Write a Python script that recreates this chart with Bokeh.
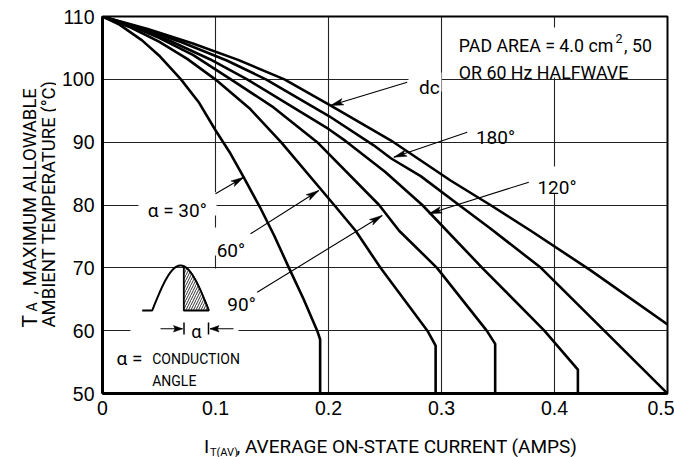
import numpy as np
from bokeh.plotting import figure
from bokeh.layouts import row, column
from bokeh.models import Range1d, Label, FixedTicker
from bokeh.core.properties import value
from bokeh.embed import file_html
from bokeh.resources import INLINE

# ---------------- data ----------------
x_ticks = [0.0, 0.1, 0.2, 0.3, 0.4, 0.5]
x_tick_labels = ["0", "0.1", "0.2", "0.3", "0.4", "0.5"]
y_ticks = [50, 60, 70, 80, 90, 100, 110]
y_tick_labels = ["50", "60", "70", "80", "90", "100", "110"]

# I_T(AV) (amps) and T_A (deg C) for each conduction angle
i_30 = [0, 0.015, 0.035, 0.05, 0.0694, 0.085, 0.1, 0.1125, 0.125, 0.1395, 0.152, 0.165, 0.178, 0.190, 0.1926, 0.1926]
t_30 = [110, 108.7, 106.2, 103.8, 100, 96.4, 91.9, 88.4, 84.4, 79.6, 75.1, 70, 65.0, 60, 58.6, 50]
i_60 = [0, 0.025, 0.05, 0.075, 0.0998, 0.13, 0.158, 0.205, 0.224, 0.246, 0.2875, 0.2948, 0.2948]
t_60 = [110, 108.25, 106, 103.25, 100, 95.4, 90, 80, 75.9, 70, 60, 57.6, 50]
i_90 = [0, 0.025, 0.05, 0.08, 0.1136, 0.15, 0.19, 0.2448, 0.2625, 0.296, 0.34, 0.3475, 0.3475]
t_90 = [110, 108.5, 106.6, 103.9, 100, 95.7, 90, 80, 75.9, 70, 60, 57.9, 50]
i_120 = [0, 0.03, 0.06, 0.095, 0.128, 0.2, 0.215, 0.25, 0.283, 0.336, 0.391, 0.4207, 0.4207]
t_120 = [110, 108.3, 106.1, 103.2, 100, 92.1, 90.2, 85.3, 80, 70, 60, 53.8, 50]
i_180 = [0, 0.035, 0.07, 0.11, 0.1446, 0.2, 0.24, 0.2555, 0.2816, 0.3155, 0.343, 0.388, 0.444, 0.5]
t_180 = [110, 108.1, 105.9, 103.0, 100, 94.2, 89.5, 87.4, 84.6, 80, 76.3, 70, 60, 50]
i_dc = [0, 0.04, 0.08, 0.12, 0.161, 0.202, 0.255, 0.308, 0.345, 0.379, 0.432, 0.5]
t_dc = [110, 108.0, 105.7, 103.1, 100, 95.8, 90.3, 83.9, 79.8, 75.9, 69.6, 61.0]

curves = [(i_30, t_30), (i_60, t_60), (i_90, t_90), (i_120, t_120), (i_180, t_180), (i_dc, t_dc)]
curve_names = ["α = 30°", "60°", "90°", "120°", "180°", "dc"]

# ---------------- layout (page pixels) ----------------
PAGE_W, PAGE_H = 674, 457
LEFT_W = 56           # strip holding the y-axis title
BOT_H = 40            # strip holding the x-axis title
MW, MH = PAGE_W - LEFT_W, PAGE_H - BOT_H
FRAME_L, FRAME_R, FRAME_T, FRAME_B = 102, 667, 16, 393
X0, X1, Y0, Y1 = 0.0, 0.5, 50.0, 110.0

def dx(px):
    return X0 + (px - FRAME_L) / (FRAME_R - FRAME_L) * (X1 - X0)

def dy(py):
    return Y1 - (py - FRAME_T) / (FRAME_B - FRAME_T) * (Y1 - Y0)

FONT = "Roboto"
TICKFONT = "Liberation Sans"

p = figure(width=MW, height=MH, output_backend="svg", toolbar_location=None,
           x_range=Range1d(X0, X1), y_range=Range1d(Y0, Y1),
           min_border_left=FRAME_L - LEFT_W, min_border_right=PAGE_W - FRAME_R,
           min_border_top=FRAME_T, min_border_bottom=MH - FRAME_B,
           background_fill_color="white", border_fill_color="white")
p.outline_line_color = "black"
p.outline_line_width = 2

p.xaxis.ticker = FixedTicker(ticks=x_ticks)
p.yaxis.ticker = FixedTicker(ticks=y_ticks)
p.xaxis.major_label_overrides = dict(zip(x_ticks, x_tick_labels))
p.yaxis.major_label_overrides = dict(zip(y_ticks, y_tick_labels))
for ax in (p.xaxis, p.yaxis):
    ax.major_tick_line_color = None
    ax.minor_tick_line_color = None
    ax.axis_line_color = "black"
    ax.axis_line_width = 3
    ax.major_label_text_font = TICKFONT
    ax.major_label_text_font_size = "19.5px"
    ax.major_label_text_color = "black"
p.xaxis.major_label_standoff = 1
p.yaxis.major_label_standoff = 2

p.xgrid.ticker = FixedTicker(ticks=x_ticks)
p.ygrid.ticker = FixedTicker(ticks=y_ticks)
for g in (p.xgrid, p.ygrid):
    g.grid_line_color = "#222222"
    g.grid_line_width = 1.1

# white boxes behind texts (page px: left, top, right, bottom)
boxes = [(138, 191.7, 216, 215), (211, 227, 247, 255), (130, 268, 238, 392),
         (408, 72, 441, 91), (452, 27, 662, 77), (534, 166, 579, 193)]
p.quad(left=[dx(b[0]) for b in boxes], right=[dx(b[2]) for b in boxes],
       top=[dy(b[1]) for b in boxes], bottom=[dy(b[3]) for b in boxes],
       fill_color="white", line_color=None)

for xs, ys in curves:
    p.line(xs, ys, line_color="black", line_width=2.6)

# ---------------- arrows ----------------
def head(tip, tail, L=13.0, w=3.3, notch=3.0):
    tx, ty = tip
    sx, sy = tail
    ux, uy = sx - tx, sy - ty
    n = np.hypot(ux, uy)
    ux, uy = ux / n, uy / n
    vx, vy = -uy, ux
    pts = [(tx, ty), (tx + ux * L + vx * w, ty + uy * L + vy * w),
           (tx + ux * (L - notch), ty + uy * (L - notch)),
           (tx + ux * L - vx * w, ty + uy * L - vy * w)]
    return [dx(a) for a, b in pts], [dy(b) for a, b in pts]

arrows = [((215, 193.3), (243.3, 176.7)),
          ((250, 233.3), (318.3, 190)),
          ((256.7, 291.7), (381.7, 215)),
          ((528.3, 181.7), (428.3, 213.3)),
          ((466.7, 131.7), (393.3, 156.7)),
          ((406.7, 81.7), (330, 105))]
small_arrows = [((160, 328.3), (182, 328.3)), ((233, 328.3), (209.5, 328.3))]

hx, hy = [], []
for tail, tip in arrows:
    a, b = head(tip, tail)
    hx.append(a); hy.append(b)
for tail, tip in small_arrows:
    a, b = head(tip, tail, L=9, w=3.2, notch=1.5)
    hx.append(a); hy.append(b)
allar = arrows + small_arrows
p.segment(x0=[dx(t[0][0]) for t in allar], y0=[dy(t[0][1]) for t in allar],
          x1=[dx(t[1][0]) for t in allar], y1=[dy(t[1][1]) for t in allar],
          line_color="black", line_width=1.1)
p.patches(hx, hy, fill_color="black", line_color="black", line_width=0.5)

# ---------------- conduction-angle sketch ----------------
spx = np.linspace(151.7, 208.3, 50)
spy = 310 - 45 * np.sin(np.pi * (spx - 151.7) / 56.6)
p.line([dx(141.7)] + [dx(v) for v in spx], [dy(310)] + [dy(v) for v in spy],
       line_color="black", line_width=2)
hpx = np.linspace(183.3, 208.3, 20)
hpy = 310 - 45 * np.sin(np.pi * (hpx - 151.7) / 56.6)
p.patch([dx(183.3)] + [dx(v) for v in hpx], [dy(310)] + [dy(v) for v in hpy],
        fill_color="white", line_color="black", line_width=1.8,
        hatch_pattern="/", hatch_color="black", hatch_weight=0.8, hatch_scale=5)
p.segment(x0=[dx(183.5), dx(208)], y0=[dy(322), dy(322)],
          x1=[dx(183.5), dx(208)], y1=[dy(334), dy(334)], line_color="black", line_width=1.5)

# ---------------- texts inside the frame ----------------
def lab(text, px, py, size=19, align="left", font=FONT):
    p.add_layout(Label(x=dx(px), y=dy(py), text=text, text_font=font,
                       text_font_size=f"{size}px", text_align=align,
                       text_baseline="alphabetic", text_color="black"))

label_pos = [(176.7, 210), (230.4, 250), (241, 304), (556.5, 186.7), (495, 136.7), (428.8, 86.7)]
for name, (px, py) in zip(curve_names, label_pos):
    lab(name, px, py, align="center")

lab("PAD AREA = 4.0 cm", 458.3, 45, size=17.8)
lab("2", 615, 37.5, size=12.5)
lab(", 50", 623.5, 45, size=17.8)
lab("OR 60 Hz HALFWAVE", 458.3, 71.7, size=17.8)

lab("α", 195.8, 331, size=18, align="center")
lab("α =", 129, 358, size=19, align="center")
lab("CONDUCTION", 151.7, 358.3, size=14)
lab("ANGLE", 151.7, 380, size=14)

# ---------------- y-axis title strip (frame aligned with the main frame) ----------------
fl = figure(width=LEFT_W, height=MH, output_backend="svg", toolbar_location=None,
            x_range=Range1d(0, LEFT_W), y_range=p.y_range,
            x_axis_location=None, y_axis_location=None,
            min_border=0, background_fill_color="white", border_fill_color="white")
fl.outline_line_color = None
fl.grid.visible = False
rot = np.pi / 2
def ylab(text, px, py, size):
    fl.text(x=[px], y=[dy(py)], text=[text], angle=rot, text_font=value(FONT),
            text_font_size=f"{size}px", text_align="left", text_baseline="alphabetic",
            text_color="black")
ylab("T", 29.5, 327, 21)
ylab("A", 31, 311, 14)
ylab(", MAXIMUM ALLOWABLE", 29.5, 294, 18.5)
ylab("AMBIENT TEMPERATURE (°C)", 48.5, 327, 18.5)

# ---------------- x-axis title strip ----------------
fb = figure(width=PAGE_W, height=BOT_H, output_backend="svg", toolbar_location=None,
            x_range=Range1d(0, PAGE_W), y_range=Range1d(0, BOT_H),
            x_axis_location=None, y_axis_location=None,
            min_border=0, background_fill_color="white", border_fill_color="white")
fb.outline_line_color = None
fb.grid.visible = False
def xlab(text, px, py, size):
    fb.text(x=[px], y=[PAGE_H - py], text=[text], text_font=value(FONT),
            text_font_size=f"{size}px", text_align="left", text_baseline="alphabetic",
            text_color="black")
xlab("I", 203.5, 446, 19)
xlab("T(AV)", 209.5, 451.5, 11)
xlab(", AVERAGE ON-STATE CURRENT (AMPS)", 236, 446, 19)

layout = column(row(fl, p), fb)
open("out.html", "w").write(file_html(layout, INLINE))
